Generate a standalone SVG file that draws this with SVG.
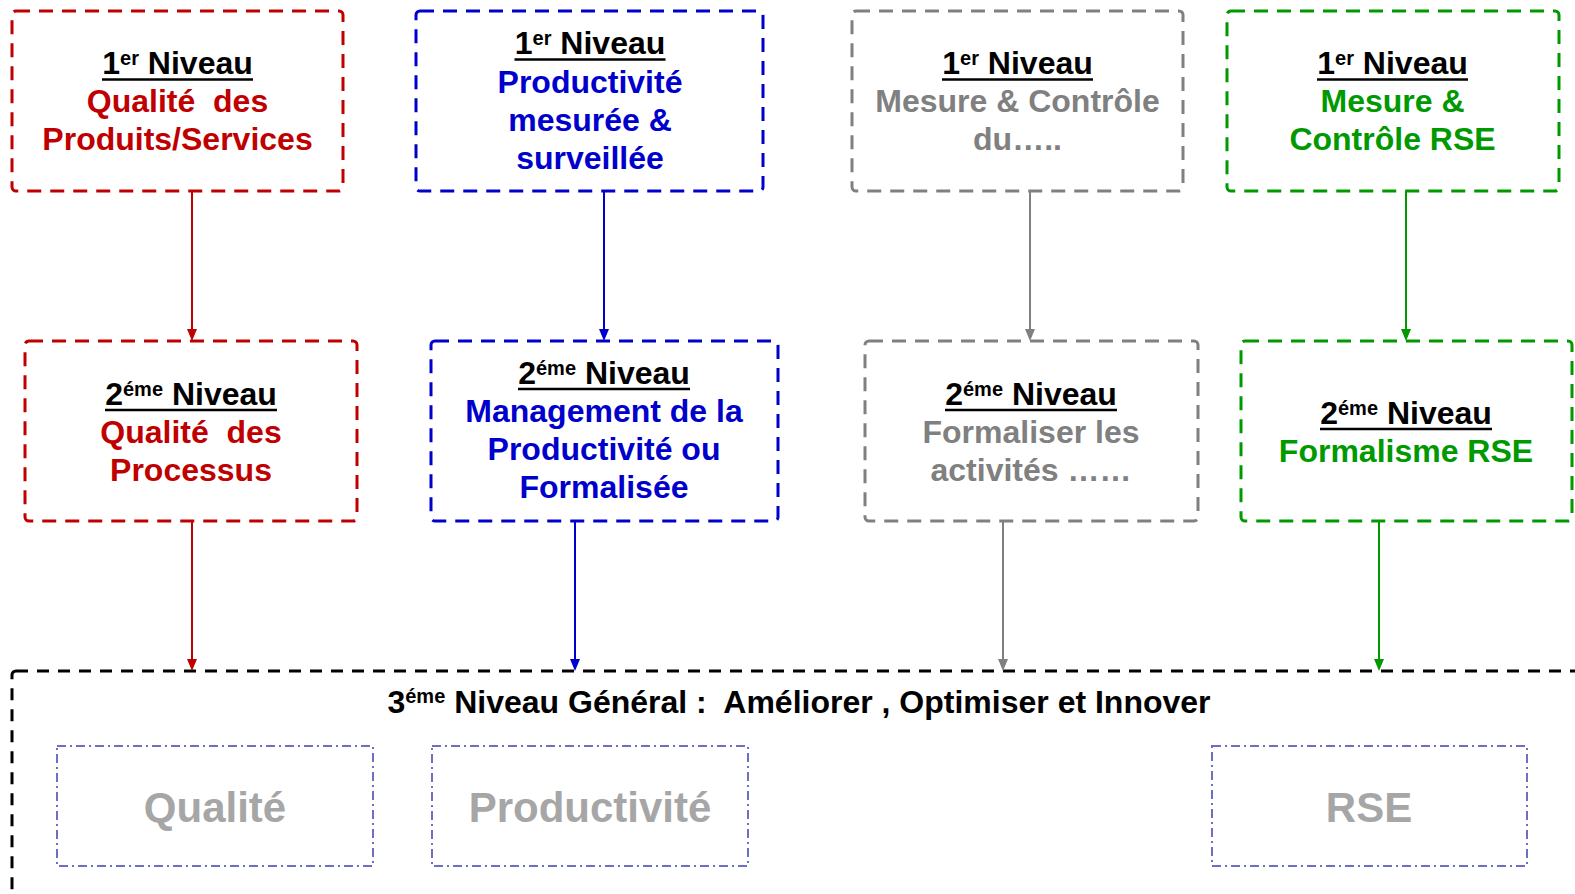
<svg xmlns="http://www.w3.org/2000/svg" width="1575" height="894" viewBox="0 0 1575 894">
  <style>
    text { font-family: "Liberation Sans", Arial, sans-serif; font-weight: bold; text-anchor: middle; white-space: pre; }
    .t { font-size: 32px; }
    .sup { font-size: 20px; }
    .k { fill: #000000; }
    .red { fill: #c00000; }
    .blue { fill: #0000cc; }
    .grey { fill: #808080; }
    .green { fill: #009900; }
    .box { fill: #ffffff; stroke-width: 3; stroke-dasharray: 14 9; }
    .bred { stroke: #c00000; }
    .bblue { stroke: #0000cc; }
    .bgrey { stroke: #808080; }
    .bgreen { stroke: #009900; }
    .ul { stroke: #000000; stroke-width: 2.6; }
    .general { fill: none; stroke: #000000; stroke-width: 3; stroke-dasharray: 12 9; }
    .axis { fill: #ffffff; stroke: #6f6fc2; stroke-width: 2; stroke-dasharray: 9 4 2 4; }
    .axis-label { font-size: 42px; fill: #a6a6a6; }
    .link { fill: none; stroke-width: 2; }
  </style>
  <defs>
    <marker id="ah-red" viewBox="0 0 12 10" refX="2" refY="5" markerWidth="12" markerHeight="10" markerUnits="userSpaceOnUse" orient="auto">
      <path d="M0,0 L12,5 L0,10 z" fill="#c00000"/>
    </marker>
    <marker id="ah-blue" viewBox="0 0 12 10" refX="2" refY="5" markerWidth="12" markerHeight="10" markerUnits="userSpaceOnUse" orient="auto">
      <path d="M0,0 L12,5 L0,10 z" fill="#0000cc"/>
    </marker>
    <marker id="ah-grey" viewBox="0 0 12 10" refX="2" refY="5" markerWidth="12" markerHeight="10" markerUnits="userSpaceOnUse" orient="auto">
      <path d="M0,0 L12,5 L0,10 z" fill="#808080"/>
    </marker>
    <marker id="ah-green" viewBox="0 0 12 10" refX="2" refY="5" markerWidth="12" markerHeight="10" markerUnits="userSpaceOnUse" orient="auto">
      <path d="M0,0 L12,5 L0,10 z" fill="#009900"/>
    </marker>
  </defs>

  <rect width="1575" height="894" fill="#ffffff"/>

  <!-- third level frame with its three axes -->
  <g id="niveau3">
    <rect class="general" x="12" y="671" width="1620" height="300" rx="4"/>
    <text class="k" x="799" y="713" style="font-size:32px">3<tspan class="sup" dy="-10">éme</tspan><tspan dy="10"> Niveau Général :  Améliorer , Optimiser et Innover</tspan></text>
  </g>
  <g id="axe-qualite">
    <rect class="axis" x="57" y="746" width="316" height="120"/>
    <text class="axis-label" x="215" y="822">Qualité</text>
  </g>
  <g id="axe-productivite">
    <rect class="axis" x="432" y="746" width="316" height="120"/>
    <text class="axis-label" x="590" y="822">Productivité</text>
  </g>
  <g id="axe-rse">
    <rect class="axis" x="1212" y="746" width="315" height="120"/>
    <text class="axis-label" x="1369" y="822">RSE</text>
  </g>

  <!-- connectors -->
  <g id="connectors">
    <line class="link" stroke="#c00000" x1="192" y1="191" x2="192" y2="331" marker-end="url(#ah-red)"/>
    <line class="link" stroke="#0000cc" x1="604" y1="191" x2="604" y2="331" marker-end="url(#ah-blue)"/>
    <line class="link" stroke="#808080" x1="1030" y1="191" x2="1030" y2="331" marker-end="url(#ah-grey)"/>
    <line class="link" stroke="#009900" x1="1406" y1="191" x2="1406" y2="331" marker-end="url(#ah-green)"/>
    <line class="link" stroke="#c00000" x1="192" y1="521" x2="192" y2="661" marker-end="url(#ah-red)"/>
    <line class="link" stroke="#0000cc" x1="575" y1="521" x2="575" y2="661" marker-end="url(#ah-blue)"/>
    <line class="link" stroke="#808080" x1="1003" y1="521" x2="1003" y2="661" marker-end="url(#ah-grey)"/>
    <line class="link" stroke="#009900" x1="1379" y1="521" x2="1379" y2="661" marker-end="url(#ah-green)"/>
  </g>

  <!-- first level -->
  <g id="n1-qualite">
    <rect class="box bred" x="12" y="11" width="331" height="180" rx="4"/>
    <text class="t k" x="177.5" y="74">1<tspan class="sup" dy="-9">er</tspan><tspan dy="9"> Niveau</tspan></text>
    <line class="ul" x1="102" y1="79.5" x2="253" y2="79.5"/>
    <text class="t red" x="177.5" y="112">Qualité  des</text>
    <text class="t red" x="177.5" y="150">Produits/Services</text>
  </g>
  <g id="n1-productivite">
    <rect class="box bblue" x="416" y="11" width="347" height="180" rx="4"/>
    <text class="t k" x="590" y="54">1<tspan class="sup" dy="-9">er</tspan><tspan dy="9"> Niveau</tspan></text>
    <line class="ul" x1="514.5" y1="59.5" x2="665.5" y2="59.5"/>
    <text class="t blue" x="590" y="93">Productivité</text>
    <text class="t blue" x="590" y="131">mesurée &amp;</text>
    <text class="t blue" x="590" y="169">surveillée</text>
  </g>
  <g id="n1-mesure">
    <rect class="box bgrey" x="852" y="11" width="331" height="180" rx="4"/>
    <text class="t k" x="1017.5" y="74">1<tspan class="sup" dy="-9">er</tspan><tspan dy="9"> Niveau</tspan></text>
    <line class="ul" x1="942" y1="79.5" x2="1093" y2="79.5"/>
    <text class="t grey" x="1017.5" y="112">Mesure &amp; Contrôle</text>
    <text class="t grey" x="1017.5" y="150">du…..</text>
  </g>
  <g id="n1-rse">
    <rect class="box bgreen" x="1227" y="11" width="332" height="180" rx="4"/>
    <text class="t k" x="1392.5" y="74">1<tspan class="sup" dy="-9">er</tspan><tspan dy="9"> Niveau</tspan></text>
    <line class="ul" x1="1317" y1="79.5" x2="1468" y2="79.5"/>
    <text class="t green" x="1392.5" y="112">Mesure &amp;</text>
    <text class="t green" x="1392.5" y="150">Contrôle RSE</text>
  </g>

  <!-- second level -->
  <g id="n2-qualite">
    <rect class="box bred" x="25" y="341" width="332" height="180" rx="4"/>
    <text class="t k" x="191" y="405">2<tspan class="sup" dy="-9">éme</tspan><tspan dy="9"> Niveau</tspan></text>
    <line class="ul" x1="105" y1="410" x2="277" y2="410"/>
    <text class="t red" x="191" y="443">Qualité  des</text>
    <text class="t red" x="191" y="481">Processus</text>
  </g>
  <g id="n2-productivite">
    <rect class="box bblue" x="431" y="341" width="347" height="180" rx="4"/>
    <text class="t k" x="604" y="384">2<tspan class="sup" dy="-9">éme</tspan><tspan dy="9"> Niveau</tspan></text>
    <line class="ul" x1="518" y1="389" x2="690" y2="389"/>
    <text class="t blue" x="604" y="422">Management de la</text>
    <text class="t blue" x="604" y="460">Productivité ou</text>
    <text class="t blue" x="604" y="498">Formalisée</text>
  </g>
  <g id="n2-formaliser">
    <rect class="box bgrey" x="865" y="341" width="333" height="180" rx="4"/>
    <text class="t k" x="1031" y="405">2<tspan class="sup" dy="-9">éme</tspan><tspan dy="9"> Niveau</tspan></text>
    <line class="ul" x1="945" y1="410" x2="1117" y2="410"/>
    <text class="t grey" x="1031" y="443">Formaliser les</text>
    <text class="t grey" x="1031" y="481">activités ……</text>
  </g>
  <g id="n2-rse">
    <rect class="box bgreen" x="1241" y="341" width="331" height="180" rx="4"/>
    <text class="t k" x="1406" y="424">2<tspan class="sup" dy="-9">éme</tspan><tspan dy="9"> Niveau</tspan></text>
    <line class="ul" x1="1320" y1="429" x2="1492" y2="429"/>
    <text class="t green" x="1406" y="462">Formalisme RSE</text>
  </g>
</svg>
